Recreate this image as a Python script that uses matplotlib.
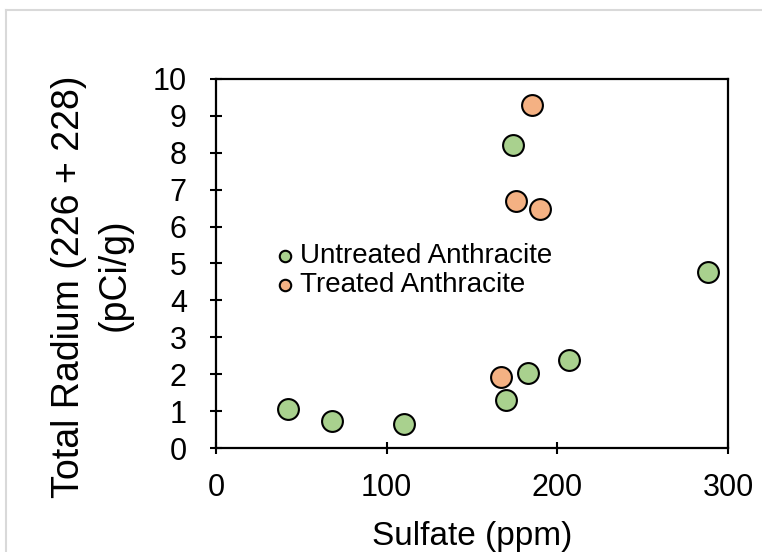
import matplotlib.pyplot as plt
from matplotlib.lines import Line2D

plt.rcParams['font.family'] = ['Liberation Sans', 'DejaVu Sans']

# data
untreated_x = [42, 68, 110, 170, 183, 207, 288, 174]
untreated_y = [1.05, 0.72, 0.65, 1.3, 2.03, 2.38, 4.78, 8.22]
treated_x = [167, 176, 190, 185]
treated_y = [1.93, 6.7, 6.48, 9.3]

green = '#A9D18E'
orange = '#F4B183'

fig = plt.figure(figsize=(7.62, 5.52), dpi=100)
ax = fig.add_axes([0.2835, 0.1884, 0.6719, 0.6685])

ax.scatter(untreated_x, untreated_y, s=225, c=green, edgecolors='black',
           linewidths=1.5, label='Untreated Anthracite', zorder=3)
ax.scatter(treated_x, treated_y, s=225, c=orange, edgecolors='black',
           linewidths=1.5, label='Treated Anthracite', zorder=3)

ax.set_xlim(0, 300)
ax.set_ylim(0, 10)
ax.set_xticks([0, 100, 200, 300])
ax.set_yticks(range(0, 11))
ax.tick_params(direction='inout', length=8, width=1.5, labelsize=22)
ax.tick_params(axis='y', pad=17)
ax.tick_params(axis='x', pad=14)
for sp in ax.spines.values():
    sp.set_linewidth(1.6)

ax.set_xlabel('Sulfate (ppm)', fontsize=24, labelpad=13)

# y label: two lines, second one sits a bit higher than centred
fig.text(69 / 762, 1 - 287 / 552, 'Total Radium (226 + 228)', fontsize=27,
         rotation=90, ha='center', va='center')
fig.text(115 / 762, 1 - 275 / 552, '(pCi/g)', fontsize=27,
         rotation=90, ha='center', va='center')

leg = ax.legend(loc='center left', bbox_to_anchor=(0.08, 0.481), frameon=False,
                fontsize=20, markerscale=0.55, handletextpad=0.05,
                labelspacing=0.1, borderpad=0, handlelength=1.0)

# thin grey frame around the figure (top and left edges)
fig.add_artist(Line2D([6 / 762, 1], [1 - 10 / 552, 1 - 10 / 552],
                      transform=fig.transFigure, color='#d9d9d9', lw=1.5))
fig.add_artist(Line2D([6 / 762, 6 / 762], [0, 1 - 10 / 552],
                      transform=fig.transFigure, color='#d9d9d9', lw=1.5))

fig.savefig('out.png', dpi=100)
